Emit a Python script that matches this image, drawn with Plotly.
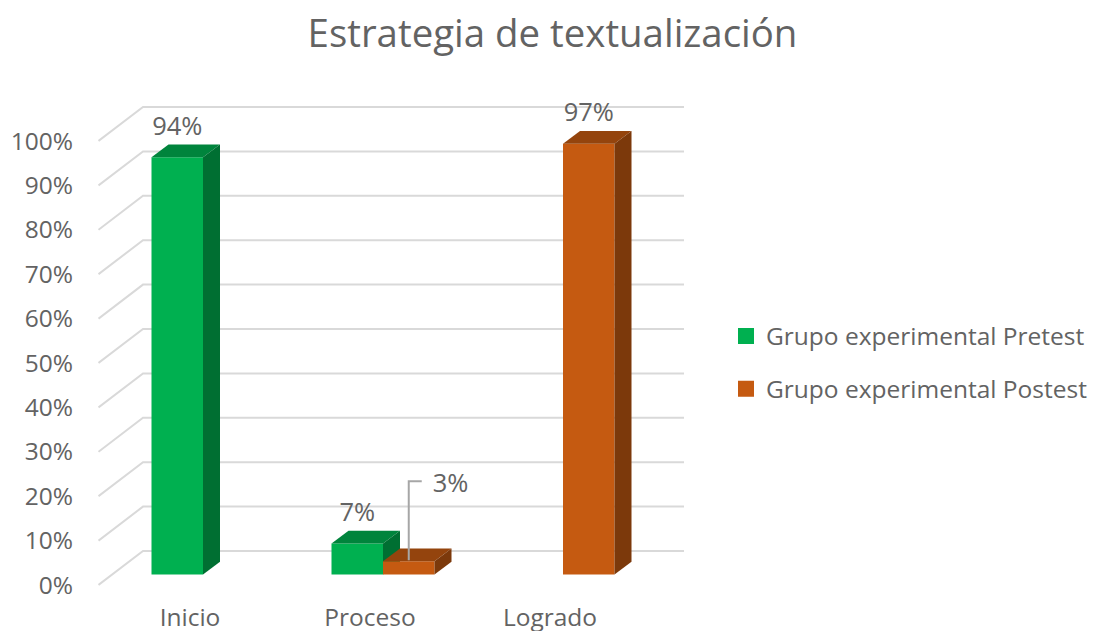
"""Plot the textualization strategy chart as oblique 3D columns."""

import plotly.graph_objects as go

categories = ["Inicio", "Proceso", "Logrado"]
series_names = ["Grupo experimental Pretest", "Grupo experimental Postest"]
pretest_values = [94, 7, None]
postest_values = [None, 3, 97]
percent_ticks = [0, 10, 20, 30, 40, 50, 60, 70, 80, 90, 100]
title_text = "Estrategia de textualización"

FONT = "Open Sans"
TEXT_COLOR = "#636363"
GRID_COLOR = "#d9d9d9"
LEADER_COLOR = "#a6a6a6"
FRONT_COLORS = ["#00b050", "#c55a11"]
TOP_COLORS = ["#00843c", "#94440d"]
SIDE_COLORS = ["#006f32", "#7c390b"]

WIDTH, HEIGHT = 1094, 631
PLOT_LEFT, PLOT_RIGHT, PLOT_TOP, PLOT_BOTTOM = 98, 690, 100, 600

# pixel scales of the two axes
BAR_ZERO_PX = 574.5
PX_PER_PERCENT = 4.44
FIRST_CATEGORY_PX = 203
PX_PER_CATEGORY = 180

# oblique projection, in axis units
BAR_WIDTH = 51.5 / PX_PER_CATEGORY
BAR_DEPTH_X = 17 / PX_PER_CATEGORY
BAR_DEPTH_Y = 12.7 / PX_PER_PERCENT
WALL_FRONT_Y = -10.5 / PX_PER_PERCENT
WALL_BACK_Y = 23.5 / PX_PER_PERCENT
WALL_FRONT_X = (PLOT_LEFT + 0.5 - FIRST_CATEGORY_PX) / PX_PER_CATEGORY
WALL_BACK_X = (143 - FIRST_CATEGORY_PX) / PX_PER_CATEGORY
WALL_END_X = (684 - FIRST_CATEGORY_PX) / PX_PER_CATEGORY
LABEL_LIFT = 29 / PX_PER_PERCENT
CATEGORY_LABEL_SHIFT = -13 / PX_PER_CATEGORY


def add_bar_series(fig, values, series_index, layer):
    """Draw one series: front face from bars, top and side faces as polygons."""
    left_offset = -BAR_WIDTH if series_index == 0 else 0.0
    fig.add_bar(
        x=list(range(len(values))),
        y=values,
        width=BAR_WIDTH,
        offset=left_offset,
        marker={"color": FRONT_COLORS[series_index], "line": {"width": 0}},
        showlegend=False,
        hoverinfo="skip",
        zorder=layer,
    )
    for position, value in enumerate(values):
        if value is None:
            continue
        left = position + left_offset
        right = left + BAR_WIDTH
        top_x = [left, right, right + BAR_DEPTH_X, left + BAR_DEPTH_X, left]
        top_y = [value, value, value + BAR_DEPTH_Y, value + BAR_DEPTH_Y, value]
        side_x = [right, right + BAR_DEPTH_X, right + BAR_DEPTH_X, right, right]
        side_y = [0, BAR_DEPTH_Y, value + BAR_DEPTH_Y, value, 0]
        for face_x, face_y, color in (
            (top_x, top_y, TOP_COLORS[series_index]),
            (side_x, side_y, SIDE_COLORS[series_index]),
        ):
            fig.add_scatter(
                x=face_x,
                y=face_y,
                mode="lines",
                fill="toself",
                fillcolor=color,
                line={"width": 0, "color": color},
                showlegend=False,
                hoverinfo="skip",
                zorder=layer,
            )


fig = go.Figure()

# side wall and back wall lines
wall_x, wall_y = [], []
for tick in percent_ticks:
    wall_x += [WALL_FRONT_X, WALL_BACK_X, WALL_END_X, None]
    wall_y += [tick + WALL_FRONT_Y, tick + WALL_BACK_Y, tick + WALL_BACK_Y, None]
fig.add_scatter(
    x=wall_x,
    y=wall_y,
    mode="lines",
    line={"color": GRID_COLOR, "width": 2},
    showlegend=False,
    hoverinfo="skip",
    zorder=-1,
)

add_bar_series(fig, pretest_values, 0, 0)
add_bar_series(fig, postest_values, 1, 1)

# value labels above the columns
label_x, label_y, label_text = [], [], []
for position, value in enumerate(pretest_values):
    if value is not None:
        label_x.append(position - BAR_WIDTH / 2)
        label_y.append(value + LABEL_LIFT)
        label_text.append(f"{value}%")
for position, value in enumerate(postest_values):
    if value is not None and value > 10:
        label_x.append(position + BAR_WIDTH / 2)
        label_y.append(value + LABEL_LIFT)
        label_text.append(f"{value}%")
fig.add_scatter(
    x=label_x,
    y=label_y,
    mode="text",
    text=label_text,
    textposition="middle center",
    textfont={"family": FONT, "size": 25.5, "color": TEXT_COLOR},
    showlegend=False,
    hoverinfo="skip",
    zorder=2,
)

# leader line for the small 3% column
callout_value = postest_values[1]
callout_x = 1 + BAR_WIDTH / 2
callout_top = callout_value + 80 / PX_PER_PERCENT
fig.add_scatter(
    x=[callout_x, callout_x, callout_x + 13 / PX_PER_CATEGORY],
    y=[callout_value + 0.2, callout_top, callout_top],
    mode="lines",
    line={"color": LEADER_COLOR, "width": 2},
    showlegend=False,
    hoverinfo="skip",
    zorder=2,
)
fig.add_scatter(
    x=[callout_x + 24 / PX_PER_CATEGORY],
    y=[callout_top - 4 / PX_PER_PERCENT],
    mode="text",
    text=[f"{callout_value}%"],
    textposition="middle right",
    textfont={"family": FONT, "size": 25.5, "color": TEXT_COLOR},
    showlegend=False,
    hoverinfo="skip",
    zorder=2,
)

# legend entries
for index, name in enumerate(series_names):
    fig.add_scatter(
        x=[None],
        y=[None],
        mode="markers",
        name=name,
        legendgroup=name,
        marker={"symbol": "square", "size": 16, "color": FRONT_COLORS[index]},
    )

fig.update_layout(
    width=WIDTH,
    height=HEIGHT,
    margin={
        "l": PLOT_LEFT,
        "r": WIDTH - PLOT_RIGHT,
        "t": PLOT_TOP,
        "b": HEIGHT - PLOT_BOTTOM,
    },
    paper_bgcolor="white",
    plot_bgcolor="white",
    barmode="overlay",
    title={
        "text": title_text,
        "x": 552.5 / WIDTH,
        "xanchor": "center",
        "y": 1 - 34 / HEIGHT,
        "yanchor": "middle",
        "font": {"family": FONT, "size": 38.4, "color": TEXT_COLOR},
    },
    legend={
        "xref": "container",
        "yref": "container",
        "x": 726 / WIDTH,
        "xanchor": "left",
        "y": 1 - 362.5 / HEIGHT,
        "yanchor": "middle",
        "tracegroupgap": 18,
        "itemsizing": "trace",
        "font": {"family": FONT, "size": 24.5, "color": TEXT_COLOR},
    },
    showlegend=True,
)
fig.update_xaxes(
    automargin=False,
    range=[
        (PLOT_LEFT - FIRST_CATEGORY_PX) / PX_PER_CATEGORY,
        (PLOT_RIGHT - FIRST_CATEGORY_PX) / PX_PER_CATEGORY,
    ],
    tickmode="array",
    tickvals=[i + CATEGORY_LABEL_SHIFT for i in range(len(categories))],
    ticktext=categories,
    tickfont={"family": FONT, "size": 24.5, "color": TEXT_COLOR},
    ticks="",
    ticklabelstandoff=0,
    showgrid=False,
    zeroline=False,
    showline=False,
)
fig.update_yaxes(
    automargin=False,
    range=[
        (BAR_ZERO_PX - PLOT_BOTTOM) / PX_PER_PERCENT,
        (BAR_ZERO_PX - PLOT_TOP) / PX_PER_PERCENT,
    ],
    tickmode="array",
    tickvals=[tick + WALL_FRONT_Y for tick in percent_ticks],
    ticktext=[f"{tick}%" for tick in percent_ticks],
    tickfont={"family": FONT, "size": 24.5, "color": TEXT_COLOR},
    ticks="",
    ticklabelstandoff=24,
    showgrid=False,
    zeroline=False,
    showline=False,
)

fig.write_html(
    "out.html",
    config={"displayModeBar": False},
    post_script="document.body.style.margin = '0';",
)
